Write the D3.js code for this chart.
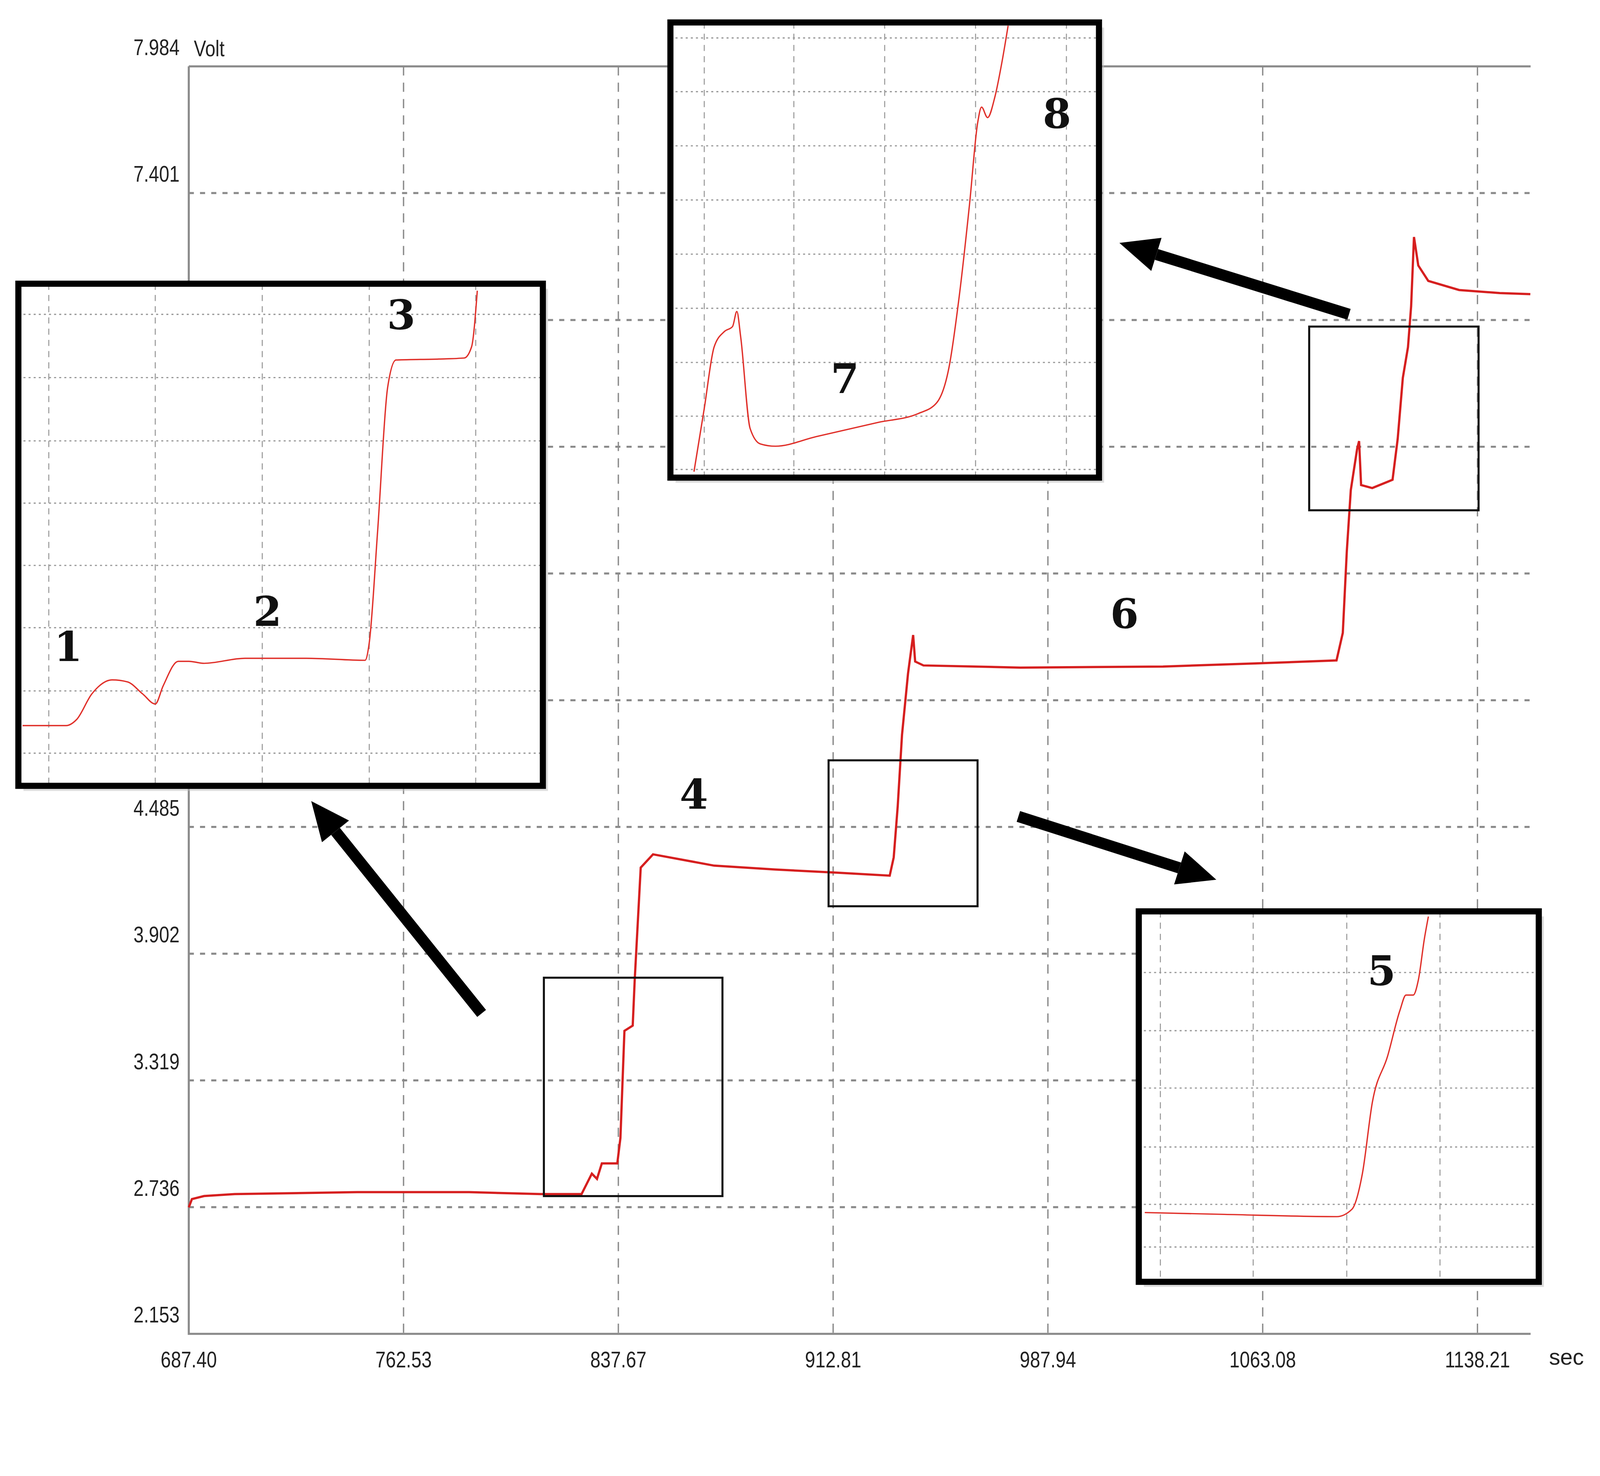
<!DOCTYPE html>
<html><head><meta charset="utf-8">
<script src="https://cdn.jsdelivr.net/npm/d3@7"></script>
<style>html,body{margin:0;padding:0;background:#fff;overflow:hidden}svg{display:block}</style></head>
<body><svg id="c" viewBox="0 0 4366 3778" preserveAspectRatio="xMidYMin meet" style="width:100vw;height:100vh"></svg>
<script>
// ---- data ----
const xTicks = [687.40, 762.53, 837.67, 912.81, 987.94, 1063.08, 1138.21];
const yTicks = [2.153, 2.736, 3.319, 3.902, 4.485, 5.068, 5.651, 6.234, 6.817, 7.401, 7.984];
const yTickLabels = ["2.153","2.736","3.319","3.902","4.485","","","","","7.401","7.984"];
const timeSec = [687.4,688.5,692.75,703.46,746.3,785.5,810.5,824.8,826.6,828.4,830.2,831.9,837.3,838.4,839.8,842.7,843.4,845.5,849.8,871.2,892.6,914.0,932.6,934.0,935.4,936.9,939.0,940.8,941.5,944.4,978.3,1028.2,1060.4,1088.9,1091.1,1092.5,1093.9,1096.1,1096.8,1097.5,1101.4,1108.5,1110.3,1112.1,1113.9,1115.0,1116.0,1117.5,1121.0,1131.8,1146.0,1156.7];
const voltage = [2.735,2.773,2.787,2.796,2.805,2.805,2.796,2.796,2.843,2.890,2.866,2.937,2.937,3.054,3.547,3.571,3.782,4.298,4.359,4.307,4.289,4.275,4.261,4.345,4.580,4.908,5.190,5.368,5.246,5.228,5.218,5.223,5.237,5.251,5.378,5.753,6.035,6.223,6.260,6.058,6.044,6.082,6.270,6.551,6.692,6.880,7.199,7.068,6.997,6.955,6.941,6.936];
// inset curves, in percent of inset width / height
const inset1X = [0.8,9.1,11.1,14.0,17.9,20.8,23.7,26.1,27.6,30.5,32.5,35.4,43.2,54.9,66.1,66.9,68.5,70.4,72.0,80.2,85.0,86.4,87.5];
const inset1Y = [12.0,12.0,13.2,18.3,21.1,20.7,18.3,16.3,19.9,24.8,24.8,24.4,25.4,25.4,25.0,28.5,50.8,79.3,84.8,85.0,85.2,87.4,98.6];
const inset2X = [5.5,7.9,10.2,12.6,14.5,15.5,16.4,18.6,21.0,24.5,34.0,48.3,57.9,62.1,65.0,67.4,69.8,71.7,72.6,74.0,75.7,77.4,78.8];
const inset2Y = [1.3,15.2,28.7,32.1,33.2,36.5,30.9,10.8,7.4,6.9,9.0,12.1,14.1,16.4,24.2,39.9,60.1,78.0,81.4,79.1,83.6,91.5,99.3];
const inset3X = [1.5,21.4,49.5,53.3,55.9,58.4,62.2,65.3,66.8,68.6,69.9,71.4,72.4];
const inset3Y = [18.7,18.2,17.6,19.6,29.2,48.5,60.9,73.3,77.4,77.4,81.5,92.6,98.6];
const inset1Grid = {v:[5.8,26.1,46.5,66.9,87.2], h:[6.5,18.9,31.5,43.9,56.3,68.7,81.3,93.9]};
const inset2Grid = {v:[7.9,28.8,50,71.2,92.4], h:[1.8,13.5,25.3,37.2,49.1,61.0,72.9,84.8,96.6]};
const inset3Grid = {v:[5.4,28.6,52.0,75.3], h:[9.4,20.9,36.4,52.3,67.8,83.5]};
const inset1Labels = [["1",9.5,27],["2",47.5,34],["3",73,93]];
const inset2Labels = [["7",40.7,20.9],["8",90.2,79.1]];
const inset3Labels = [["5",60.7,82.9]];
const mainLabels = [["4",680,782],["6",1102,605]];

// ---- drawing (layout in reference-display units, scaled) ----
const S = 4366/1568;
const svg = d3.select("#c");
const g = svg.append("g").attr("transform",`scale(${S})`);
const x = d3.scaleLinear().domain([687.40,1156.8]).range([185,1500]);
const y = d3.scaleLinear().domain([2.153,7.984]).range([1307,65]);
const grey="#8a8a8a";

g.append("g").selectAll("line").data(xTicks.slice(1)).join("line")
 .attr("x1",d=>x(d)).attr("x2",d=>x(d)).attr("y1",65).attr("y2",1307)
 .attr("stroke",grey).attr("stroke-width",1.3).attr("stroke-dasharray","9,7");
g.append("g").selectAll("line").data(yTicks.slice(1,-1)).join("line")
 .attr("x1",185).attr("x2",1500).attr("y1",d=>y(d)).attr("y2",d=>y(d))
 .attr("stroke",grey).attr("stroke-width",2).attr("stroke-dasharray","5,6");
g.append("path").attr("d","M185,65H1500M185,65V1307H1500").attr("fill","none").attr("stroke",grey).attr("stroke-width",2);

const lf = "Liberation Sans, Arial, sans-serif";
const fs = 22;
g.append("g").selectAll("text").data(xTicks).join("text")
 .attr("x",d=>x(d)).attr("y",1340).attr("text-anchor","middle")
 .attr("font-family",lf).attr("font-size",fs).attr("fill","#222")
 .attr("transform",d=>`translate(${x(d)},0) scale(0.82,1) translate(${-x(d)},0)`).text(d=>d.toFixed(2));
g.append("text").attr("x",1518).attr("y",1337).attr("font-family",lf).attr("font-size",fs).attr("fill","#222").text("sec");
g.append("g").selectAll("text").data(yTicks.map((v,i)=>[v,yTickLabels[i]]).filter(d=>d[1])).join("text")
 .attr("x",176).attr("y",d=>y(d[0])-11).attr("text-anchor","end")
 .attr("font-family",lf).attr("font-size",fs).attr("fill","#222")
 .attr("transform","translate(176,0) scale(0.82,1) translate(-176,0)").text(d=>d[1]);
g.append("text").attr("x",190).attr("y",55).attr("font-family",lf).attr("font-size",fs).attr("fill","#222")
 .attr("transform","translate(190,0) scale(0.82,1) translate(-190,0)").text("Volt");

const main = timeSec.map((t,i)=>[t,voltage[i]]);
g.append("path").datum(main).attr("fill","none").attr("stroke","#d61f1f").attr("stroke-width",2.2)
 .attr("d",d3.line().x(d=>x(d[0])).y(d=>y(d[1])));

[[533,958,708,1172],[812,745,958,888],[1283,320,1449,500]].forEach(b=>{
 g.append("rect").attr("x",b[0]).attr("y",b[1]).attr("width",b[2]-b[0]).attr("height",b[3]-b[1])
  .attr("fill","none").attr("stroke","#111").attr("stroke-width",2);
});

const serif="DejaVu Serif, Liberation Serif, serif";
function label(sel,t,px,py,fs){ sel.append("text").attr("x",px).attr("y",py).attr("text-anchor","middle")
 .attr("dominant-baseline","middle").attr("font-family",serif).attr("font-weight","bold").attr("font-size",fs).attr("fill","#111").text(t);}
mainLabels.forEach(l=>label(g,l[0],l[1],l[2],40));

function arrow(x1,y1,x2,y2){
 const a=Math.atan2(y2-y1,x2-x1), L=38, W=17;
 const bx=x2-L*Math.cos(a), by=y2-L*Math.sin(a);
 const px=-Math.sin(a), py=Math.cos(a);
 g.append("line").attr("x1",x1).attr("y1",y1).attr("x2",bx).attr("y2",by).attr("stroke","#000").attr("stroke-width",11);
 g.append("path").attr("d",`M${x2},${y2}L${bx+px*W},${by+py*W}L${bx-px*W},${by-py*W}Z`).attr("fill","#000");
}
arrow(472,993,305,785);
arrow(998,800,1192,862);
arrow(1322,308,1097,238);

function inset(x0,y0,w,h,grid,xs,ys,labels){
 const ig=g.append("g");
 ig.append("rect").attr("x",x0+5).attr("y",y0+5).attr("width",w).attr("height",h).attr("fill","#bbb").attr("opacity",0.5);
 ig.append("rect").attr("x",x0).attr("y",y0).attr("width",w).attr("height",h).attr("fill","#fff");
 const sx=d3.scaleLinear().domain([0,100]).range([x0,x0+w]);
 const sy=d3.scaleLinear().domain([0,100]).range([y0+h,y0]);
 ig.selectAll(".v").data(grid.v).join("line").attr("x1",d=>sx(d)).attr("x2",d=>sx(d)).attr("y1",y0).attr("y2",y0+h)
  .attr("stroke","#999").attr("stroke-width",1).attr("stroke-dasharray","6,5");
 ig.selectAll(".h").data(grid.h).join("line").attr("y1",d=>sy(d)).attr("y2",d=>sy(d)).attr("x1",x0).attr("x2",x0+w)
  .attr("stroke","#999").attr("stroke-width",1.2).attr("stroke-dasharray","2,3");
 ig.append("path").datum(xs.map((v,i)=>[v,ys[i]])).attr("fill","none").attr("stroke","#e0302a").attr("stroke-width",1.3)
  .attr("d",d3.line().x(d=>sx(d[0])).y(d=>sy(d[1])).curve(d3.curveMonotoneX));
 labels.forEach(l=>label(ig,l[0],sx(l[1]),sy(l[2]),40));
 ig.append("rect").attr("x",x0).attr("y",y0).attr("width",w).attr("height",h).attr("fill","none").attr("stroke","#000").attr("stroke-width",6);
}
inset(18,278,514,492,inset1Grid,inset1X,inset1Y,inset1Labels);
inset(657,22,420,446,inset2Grid,inset2X,inset2Y,inset2Labels);
inset(1116,893,392,363,inset3Grid,inset3X,inset3Y,inset3Labels);
</script></body></html>
